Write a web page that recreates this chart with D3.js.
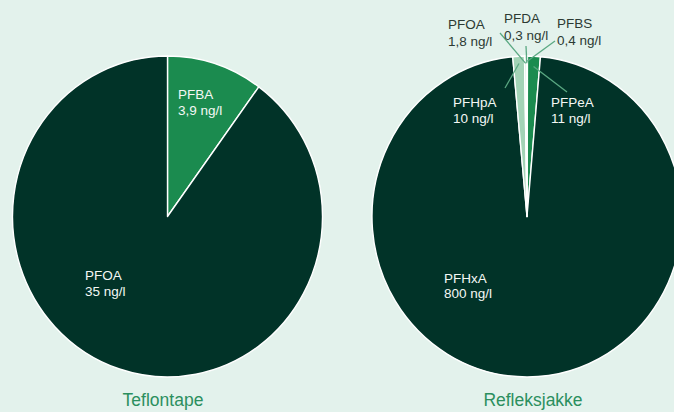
<!DOCTYPE html>
<html>
<head>
<meta charset="utf-8">
<script src="https://cdn.jsdelivr.net/npm/d3@7"></script>
<style>
  html, body { margin: 0; padding: 0; background: #e3f2ec; }
  svg { display: block; font-family: "Liberation Sans", Arial, sans-serif; }
</style>
</head>
<body>
<svg id="chartSVG"></svg>
<script>
// values
let teflonNames = ["PFBA", "PFOA"];
let teflonValues = [3.9, 35];
let teflonLabels = ["3,9 ng/l", "35 ng/l"];

let refleksNames = ["PFBS", "PFPeA", "PFHxA", "PFHpA", "PFOA", "PFDA"];
let refleksValues = [0.4, 11, 800, 10, 1.8, 0.3];
let refleksLabels = ["0,4 ng/l", "11 ng/l", "800 ng/l", "10 ng/l", "1,8 ng/l", "0,3 ng/l"];

let chartTitles = ["Teflontape", "Refleksjakke"];

let widthSVG = 674;
let heightSVG = 412;

let SVG = d3.select('svg#chartSVG')
            .attr('width', widthSVG)
            .attr('height', heightSVG);

let radius = 155;
let squash = 1.035; // the slide is a bit stretched vertically

let colors = {
  PFBA: '#1b8b4f',
  PFOA: '#013328',
  PFHxA: '#013328',
  PFPeA: '#1b8b4f',
  PFHpA: '#a3d3b6',
  PFBS: '#d6ece0',
  PFDA: '#d6ece0',
  PFOAr: '#d6ece0'
};

// label layout: x, first baseline, line gap, text colour, optional leader start + radius
let teflonLayout = {
  PFBA: { x: 178, y: 99, gap: 16, fill: '#f4f8f5' },
  PFOA: { x: 85, y: 280, gap: 16, fill: '#f4f8f5' }
};
let refleksLayout = {
  PFBS:  { x: 557, y: 28, gap: 17, fill: '#2c3a33', lx: 555, ly: 41, lr: 150 },
  PFPeA: { x: 551, y: 107, gap: 16, fill: '#f4f8f5', lx: 567, ly: 92, lr: 145 },
  PFHxA: { x: 444, y: 283, gap: 14.5, fill: '#f4f8f5' },
  PFHpA: { x: 453, y: 107, gap: 16, fill: '#f4f8f5', lx: 505, ly: 88, lr: 148 },
  PFOA:  { x: 448, y: 29, gap: 17, fill: '#2c3a33', lx: 500, ly: 33, lr: 148 },
  PFDA:  { x: 504, y: 23, gap: 17, fill: '#2c3a33', lx: 526, ly: 46, lr: 148 }
};

let pie = d3.pie().sort(null).value(d => d.value);
let arc = d3.arc().innerRadius(0).outerRadius(radius);

function drawPie(cx, cy, names, values, labels, layout, title, titleX, colorKey) {
  let data = names.map((n, i) => ({ name: n, value: values[i], label: labels[i] }));
  let arcs = pie(data);

  let G = SVG.append('g').attr('transform', `translate(${cx}, ${cy})`);

  G.append('g')
   .attr('transform', `scale(1, ${squash})`)
   .selectAll('path')
   .data(arcs)
   .enter()
   .append('path')
   .attr('d', arc)
   .style('fill', d => colors[colorKey(d.data.name)])
   .style('stroke', '#ffffff')
   .style('stroke-width', 1.4)
   .style('stroke-linejoin', 'round');

  // leader lines for the thin slices
  arcs.filter(d => layout[d.data.name].lx !== undefined).forEach(d => {
    let L = layout[d.data.name];
    let a = (d.startAngle + d.endAngle) / 2;
    let ex = L.lr * Math.sin(a);
    let ey = -L.lr * Math.cos(a) * squash;
    G.append('line')
     .attr('x1', L.lx - cx)
     .attr('y1', L.ly - cy)
     .attr('x2', ex)
     .attr('y2', ey)
     .style('stroke', '#5aa882')
     .style('stroke-width', 1.3);
  });

  arcs.forEach(d => {
    let L = layout[d.data.name];
    let t = SVG.append('text')
               .attr('x', L.x)
               .attr('y', L.y)
               .style('font-size', '13.5px')
               .style('fill', L.fill);
    t.append('tspan').attr('x', L.x).text(d.data.name);
    t.append('tspan').attr('x', L.x).attr('dy', L.gap).text(d.data.label);
  });

  SVG.append('text')
     .attr('x', titleX)
     .attr('y', 406)
     .style('text-anchor', 'middle')
     .style('font-size', '17.5px')
     .style('fill', '#2b8f5e')
     .text(title);
}

drawPie(167.5, 216.5, teflonNames, teflonValues, teflonLabels, teflonLayout,
        chartTitles[0], 163, n => n);
drawPie(527, 216.5, refleksNames, refleksValues, refleksLabels, refleksLayout,
        chartTitles[1], 533, n => n === 'PFOA' ? 'PFOAr' : n);
</script>
</body>
</html>
